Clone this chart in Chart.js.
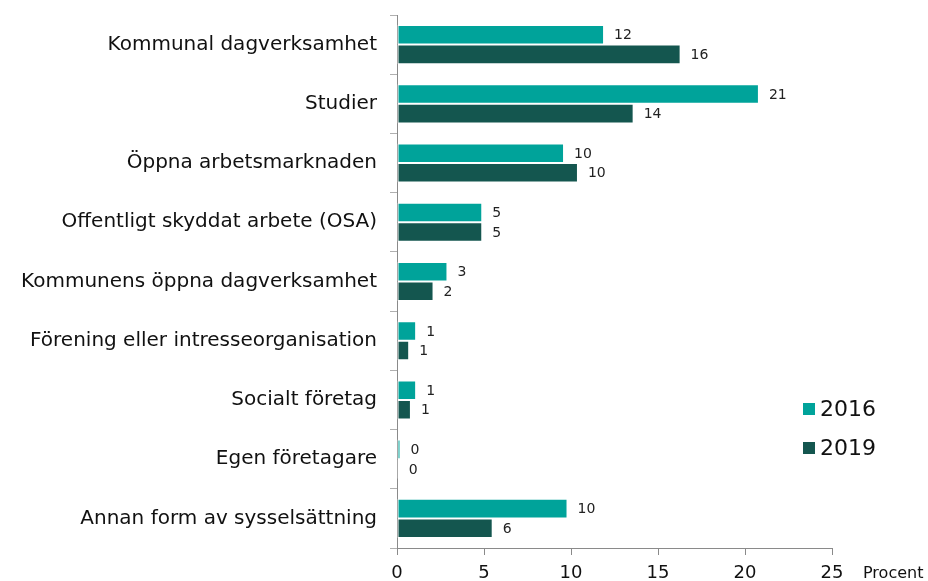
<!DOCTYPE html>
<html>
<head>
<meta charset="utf-8">
<script src="https://cdn.jsdelivr.net/npm/chart.js@4"></script>
<style>
  html, body { margin: 0; padding: 0; background: #fff; }
  #wrap { width: 928px; height: 581px; }
</style>
</head>
<body>
<div id="wrap"><canvas id="chart" width="928" height="581"></canvas></div>
<script>
// Categories and values
const categories = [
    'Kommunal dagverksamhet',
    'Studier',
    'Öppna arbetsmarknaden',
    'Offentligt skyddat arbete (OSA)',
    'Kommunens öppna dagverksamhet',
    'Förening eller intresseorganisation',
    'Socialt företag',
    'Egen företagare',
    'Annan form av sysselsättning'
];
const values2016 = [11.9, 20.8, 9.6, 4.9, 2.9, 1.1, 1.1, 0.2, 9.8];
const values2019 = [16.3, 13.6, 10.4, 4.9, 2.1, 0.7, 0.8, 0.1, 5.5];
const seriesNames = ['2016', '2019'];
const xTicks = [0, 5, 10, 15, 20, 25];
const axisUnit = 'Procent';

const colors = ['#00A39A', '#14564F'];
const fontFamily = '"DejaVu Sans", sans-serif';

// Value labels next to each bar end, rounded like the original
const barLabels = {
    id: 'barLabels',
    afterDatasetsDraw(chart) {
        const c = chart.ctx;
        c.save();
        c.font = '14px "DejaVu Sans", sans-serif';
        c.fillStyle = '#222';
        c.textBaseline = 'middle';
        c.textAlign = 'left';
        chart.data.datasets.forEach((ds, i) => {
            chart.getDatasetMeta(i).data.forEach((bar, j) => {
                c.fillText(Math.round(ds.data[j]).toString(), bar.x + 10, bar.y + 1);
            });
        });
        c.restore();
    }
};

// Legend and axis unit drawn to the right of the plot
const sideLegend = {
    id: 'sideLegend',
    afterDraw(chart) {
        const c = chart.ctx;
        const area = chart.chartArea;
        c.save();
        c.textBaseline = 'middle';
        c.textAlign = 'left';
        c.font = '22px ' + fontFamily;
        chart.data.datasets.forEach((ds, i) => {
            const y = 409 + i * 39;
            c.fillStyle = ds.backgroundColor;
            c.fillRect(803, y - 6, 12, 12);
            c.fillStyle = '#111';
            c.fillText(ds.label, 820, y + 1);
        });
        c.font = '16px ' + fontFamily;
        c.fillText(axisUnit, area.right + 31, 574);
        c.restore();
    }
};

new Chart(document.getElementById('chart'), {
    type: 'bar',
    data: {
        labels: categories,
        datasets: [
            { label: seriesNames[0], data: values2016, backgroundColor: colors[0], borderColor: '#ffffff', borderWidth: 1, borderSkipped: false },
            { label: seriesNames[1], data: values2019, backgroundColor: colors[1], borderColor: '#ffffff', borderWidth: 1, borderSkipped: false }
        ]
    },
    options: {
        indexAxis: 'y',
        responsive: false,
        animation: false,
        categoryPercentage: 0.66,
        barPercentage: 1.0,
        layout: { padding: { left: 0, right: 96, top: 15, bottom: 0 } },
        plugins: {
            legend: { display: false },
            tooltip: { enabled: false }
        },
        scales: {
            x: {
                min: 0,
                max: 25,
                afterBuildTicks: axis => { axis.ticks = xTicks.map(v => ({ value: v })); },
                afterFit: axis => { axis.height = 33; },
                grid: { display: true, drawOnChartArea: false, drawTicks: true, tickLength: 7, color: '#8a8a8a' },
                border: { display: true, color: '#8a8a8a', width: 1 },
                ticks: { color: '#111', font: { family: fontFamily, size: 18 }, padding: 8 }
            },
            y: {
                afterFit: axis => {
                    axis.width = 397;
                    axis.paddingTop = 0;
                    axis.paddingBottom = 0;
                },
                grid: { display: true, offset: true, drawOnChartArea: false, drawTicks: true, tickLength: 7, color: '#b0b0b0' },
                border: { display: true, color: '#8a8a8a', width: 1 },
                ticks: { color: '#111', font: { family: fontFamily, size: 20 }, padding: 13 }
            }
        }
    },
    plugins: [barLabels, sideLegend]
});
</script>
</body>
</html>
